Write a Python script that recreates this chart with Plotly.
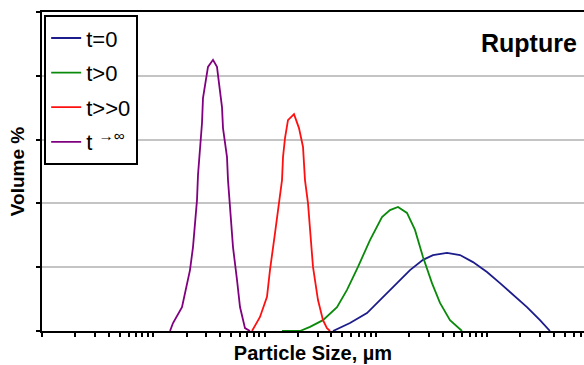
import plotly.graph_objects as go

# Particle size (µm, log axis) and volume % for each state
size_t0 = [41.27, 58.68, 83.43, 116.2, 155.2, 203.2, 265.9, 327.0, 436.9, 572.1, 748.5, 1000, 1309, 1713, 2288, 2995, 3683]
vol_t0 = [0, 0.25, 0.56, 1.07, 1.50, 1.91, 2.23, 2.38, 2.45, 2.38, 2.16, 1.85, 1.50, 1.13, 0.75, 0.34, 0]

size_t1 = [14.37, 20.85, 25.65, 33.56, 44.84, 55.16, 69.27, 88.78, 113.8, 134.3, 158.5, 190.9, 225.3, 265.9, 320.3, 378.1, 464.9, 596.2]
vol_t1 = [0, 0, 0.13, 0.34, 0.75, 1.29, 2.01, 2.85, 3.57, 3.79, 3.89, 3.70, 3.17, 2.32, 1.50, 0.88, 0.34, 0]

size_t2 = [7.72, 9.11, 10.53, 11.20, 12.43, 13.50, 14.37, 14.67, 15.29, 16.26, 18.42, 20.42, 22.19, 23.12, 24.60, 27.29, 30.26, 33.56, 36.45, 38.81]
vol_t2 = [0, 0.44, 1.07, 1.91, 3.07, 4.11, 4.73, 5.45, 6.05, 6.61, 6.80, 6.36, 5.77, 4.73, 4.01, 2.01, 0.97, 0.34, 0.09, 0]

size_t3 = [1.415, 1.505, 1.813, 1.970, 2.139, 2.277, 2.373, 2.474, 2.525, 2.632, 2.743, 2.800, 2.980, 3.105, 3.444, 3.741, 3.899, 4.150, 4.236, 4.602, 4.698, 4.896, 5.211, 5.660, 6.024, 6.680, 7.408]
vol_t3 = [0, 0.25, 0.75, 1.29, 1.91, 2.63, 3.39, 4.11, 4.89, 5.67, 6.52, 7.30, 7.96, 8.28, 8.50, 8.28, 7.77, 7.02, 6.36, 5.45, 4.73, 3.79, 2.63, 1.60, 0.75, 0.09, 0]

names = ["t=0", "t>0", "t>>0", "t <sup>→∞</sup>"]
colors = ["#1c1c8c", "#0a8a0a", "#ff1010", "#800080"]

fig = go.Figure()
for i, (xs, ys) in enumerate([(size_t0, vol_t0), (size_t1, vol_t1), (size_t2, vol_t2), (size_t3, vol_t3)]):
    fig.add_trace(go.Scatter(x=xs, y=ys, mode="lines", name=names[i],
                             legendgroup=str(i),
                             line=dict(color=colors[i], width=1.8)))

fig.update_layout(
    width=584, height=365,
    margin=dict(l=42, r=0, t=12, b=34),
    plot_bgcolor="white", paper_bgcolor="white",
    font=dict(family="Liberation Sans, Arial, sans-serif", color="black"),
    showlegend=True,
    legend=dict(x=0.004, y=0.99, xanchor="left", yanchor="top",
                bgcolor="white", bordercolor="black", borderwidth=2,
                font=dict(size=22, color="black"), tracegroupgap=3,
                itemwidth=30),
    xaxis=dict(type="log", range=[-1, 3.872], dtick="D1", ticks="outside",
               ticklen=4, tickcolor="black", tickwidth=1.5, showticklabels=False,
               showgrid=False, showline=True, linecolor="black", linewidth=2,
               mirror=True, zeroline=False, automargin=False,
               title=dict(text="<b>Particle Size, µm</b>", font=dict(size=20), standoff=10)),
    yaxis=dict(range=[0, 10], dtick=2, ticks="outside", ticklen=4, tickcolor="black",
               tickwidth=1.5, showticklabels=False, showgrid=True, gridcolor="#c4c4c4",
               gridwidth=1.5, showline=True, linecolor="black", linewidth=2,
               zeroline=False, automargin=False,
               title=dict(text="<b>Volume %</b>", font=dict(size=19), standoff=6)),
    annotations=[dict(text="<b>Rupture</b>", xref="paper", yref="paper",
                      x=0.99, y=0.904, xanchor="right", yanchor="middle",
                      showarrow=False, font=dict(size=25, color="black"))],
)

fig.write_html("out.html", config={"displayModeBar": False},
               post_script="document.body.style.margin='0';")
